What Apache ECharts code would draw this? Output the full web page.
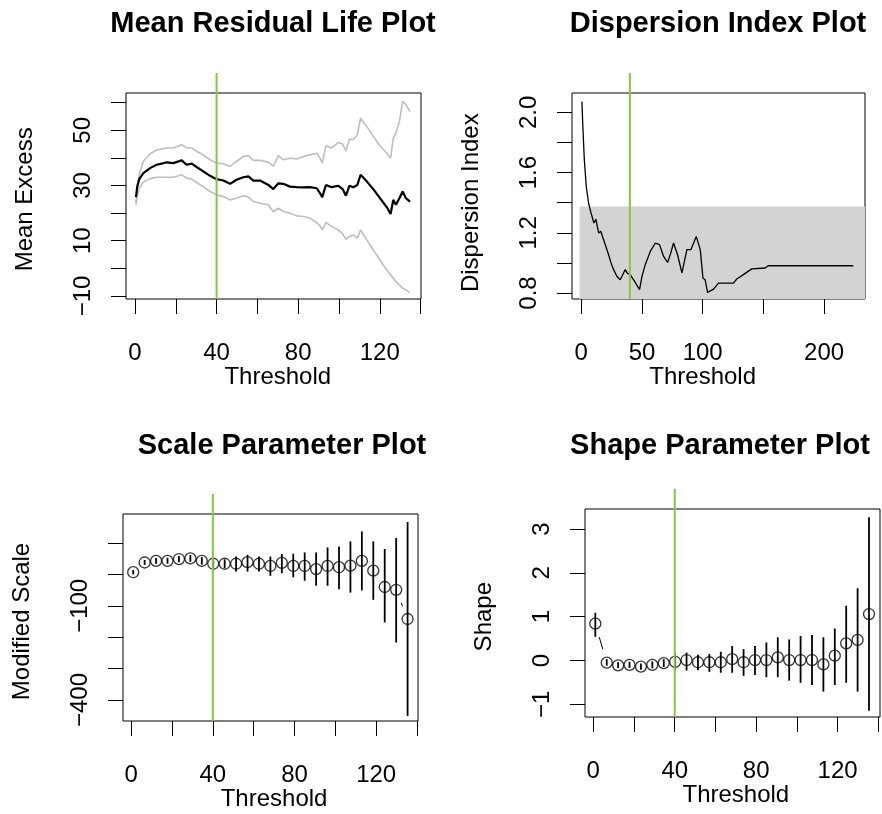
<!DOCTYPE html>
<html>
<head>
<meta charset="utf-8">
<title>Threshold diagnostics</title>
<script src="https://cdn.jsdelivr.net/npm/echarts@6/dist/echarts.min.js"></script>
<style>
html, body { margin: 0; padding: 0; background: #fff; }
#diag { width: 882px; height: 814px; }
</style>
</head>
<body>
<div id="diag"></div>
<script>
// chosen threshold (green line)
var threshold = 40;

// mean residual life plot
var mrlThreshold = [0.5, 1.1, 2.1, 4.1, 7.4, 10.6, 13.1, 15.5, 18.8, 22.9,
    25.3, 27.8, 30.2, 33.5, 36.8, 40, 43.3, 46.6, 49.8, 53.1,
    55.6, 58, 61.3, 65.4, 67.8, 70.3, 72.7, 76, 79.3, 82.5,
    85.8, 89.1, 90.7, 91.8, 93.6, 96.4, 99.7, 101.8, 103.4, 105.1,
    107, 109, 110.6, 113.6, 116.8, 120.1, 123.4, 125.3, 126.6, 127.9,
    129.6, 131.2, 132.8, 134.8];
var mrlMean = [25.8, 29.6, 32.3, 34.5, 36.3, 37.5, 37.9, 38.4, 38.1, 39.1,
    37.5, 37.9, 36.7, 35.1, 33.5, 32.3, 31.8, 30.6, 32.1, 33.0,
    33.3, 31.8, 31.8, 30.2, 28.7, 30.8, 30.6, 29.6, 29.4, 29.3,
    29.4, 29.0, 27.2, 25.8, 30.2, 29.4, 29.9, 28.7, 26.3, 29.9,
    29.4, 30.2, 33.9, 31.5, 28.7, 25.4, 22.2, 19.7, 24.8, 23.0,
    25.4, 27.8, 25.4, 24.2];
var mrlUpper = [23.6, 29.0, 34.0, 38.7, 41.5, 42.8, 43.3, 43.6, 43.6, 44.8,
    43.6, 43.6, 42.4, 41.1, 39.3, 38.1, 37.9, 36.9, 38.7, 40.5,
    40.8, 39.1, 39.1, 38.4, 37.0, 40.8, 39.3, 39.9, 39.6, 40.5,
    41.1, 41.7, 39.9, 38.1, 44.4, 43.6, 45.6, 45.0, 42.5, 46.8,
    46.6, 48.4, 54.4, 51.4, 47.8, 44.4, 41.7, 39.9, 47.2, 49.0,
    53.2, 60.5, 59.3, 56.8];
var mrlLower = [23.0, 26.0, 29.0, 31.3, 32.5, 33.0, 33.0, 33.0, 33.0, 33.9,
    32.7, 32.3, 31.1, 29.6, 27.8, 26.6, 26.0, 24.8, 25.4, 26.3,
    25.8, 24.2, 23.6, 23.0, 20.5, 21.8, 20.6, 20.0, 19.0, 18.8,
    18.2, 16.6, 15.4, 13.9, 16.6, 15.2, 13.9, 12.5, 10.5, 11.5,
    12.1, 10.9, 13.9, 10.3, 6.7, 3.0, -0.6, -2.4, -3.6, -4.8,
    -6.0, -7.2, -7.8, -8.8];

// dispersion index plot
var diThreshold = [0.5, 1.4, 2.5, 4.1, 6, 8, 10.4, 12, 14.3, 16,
    18.4, 19.8, 22.5, 24.5, 26.6, 29.4, 32.1, 34, 36.2, 38,
    40.3, 42, 44.4, 46, 48, 50, 52.7, 56.8, 61, 64.5,
    67.8, 71.1, 73.5, 76, 79.3, 82.9, 87, 90.3, 94.7, 98,
    100.2, 102, 104, 109, 113, 125.4, 128, 133.5, 140.4, 151.4,
    154, 224];
var diValue = [2.073, 1.885, 1.686, 1.508, 1.398, 1.332, 1.265, 1.29, 1.199, 1.21,
    1.154, 1.165, 1.054, 1.0, 0.955, 0.91, 0.888, 0.92, 0.955, 0.93,
    0.922, 0.9, 0.87, 0.86, 0.822, 0.91, 0.988, 1.076, 1.132, 1.121,
    1.043, 1.003, 1.06, 1.132, 1.054, 0.933, 1.088, 1.088, 1.176, 1.088,
    0.9, 0.888, 0.804, 0.826, 0.866, 0.866, 0.893, 0.922, 0.96, 0.966,
    0.981, 0.981];
var diBandX = [-1.4, 240];
var diBandY = [0.62, 1.375];

// parameter stability plots
var fitThreshold = [1, 6.6, 12.2, 17.8, 23.4, 29.0, 34.6, 40.2, 45.8, 51.4,
    57.0, 62.6, 68.2, 73.8, 79.4, 85.0, 90.6, 96.2, 101.8, 107.4,
    113.0, 118.6, 124.2, 129.8, 135.4];
var scaleEst = [7, 38, 43, 43, 49, 51, 43, 34, 34, 34,
    39, 34, 27, 37, 27, 27, 17, 27, 23, 28,
    43, 12, -40, -49, -142];
var scaleLow = [0, 30, 34, 34, 39, 40, 31, 21, 20, 9,
    9, 9, -4.5, 4, -9, -20, -36, -36, -47, -58,
    -51, -81, -153, -217, -451];
var scaleHigh = [14, 46, 52, 53, 59, 62, 55, 47, 48, 57,
    62.5, 57, 57, 65, 66, 70, 70, 86, 89, 105,
    137, 105, 81, 116, 167];
var shapeEst = [0.84, -0.05, -0.11, -0.1, -0.14, -0.1, -0.06, -0.03, 0.01, -0.04,
    -0.04, -0.04, 0.03, -0.04, 0.01, 0.01, 0.07, 0.01, 0.01, 0.01,
    -0.09, 0.11, 0.39, 0.47, 1.06];
var shapeLow = [0.54, -0.12, -0.17, -0.17, -0.21, -0.18, -0.15, -0.22, -0.23, -0.22,
    -0.26, -0.28, -0.28, -0.35, -0.33, -0.38, -0.38, -0.46, -0.51, -0.56,
    -0.71, -0.56, -0.51, -0.71, -1.15];
var shapeHigh = [1.09, 0.03, -0.04, -0.03, -0.07, -0.02, 0.03, 0.16, 0.18, 0.13,
    0.15, 0.2, 0.33, 0.26, 0.33, 0.41, 0.53, 0.48, 0.56, 0.58,
    0.53, 0.73, 1.25, 1.65, 3.27];

// tick labels that are printed (the rest of the ticks stay unlabelled)
var mrlXLabels = [0, 40, 80, 120];
var mrlYLabels = [-10, 10, 30, 50];
var diXLabels = [0, 50, 100, 200];
var diYLabels = [0.8, 1.2, 1.6, 2.0];
var scaleXLabels = [0, 40, 80, 120];
var scaleYLabels = [-400, -100];
var shapeXLabels = [0, 40, 80, 120];
var shapeYLabels = [-1, 0, 1, 2, 3];

var FONT = '"Liberation Sans", Arial, sans-serif';
var GREEN = '#86c73f';
var TICK = 15;

function zip(xs, ys) {
    return xs.map(function (x, i) { return [x, ys[i]]; });
}

function tickText(shown, digits) {
    return function (v) {
        for (var k = 0; k < shown.length; k++) {
            if (Math.abs(shown[k] - v) < 1e-6) {
                return v.toFixed(digits).replace('-', '\u2212');
            }
        }
        return '';
    };
}

// layout of the four panels (plot box in px, axis extents, tick range)
var panels = [
    { title: 'Mean Residual Life Plot', tx: 273, ty: 9,
      box: { l: 126, r: 421, t: 93, b: 299 },
      xExt: [-4.4, 140.2], yExt: [-11.1, 63.5],
      xTicks: [0, 140, 20], yTicks: [-10, 60, 10],
      xLab: mrlXLabels, yLab: mrlYLabels, yDigits: 0,
      xName: 'Threshold', yName: 'Mean Excess' },
    { title: 'Dispersion Index Plot', tx: 718, ty: 9,
      box: { l: 572, r: 865, t: 93, b: 299 },
      xExt: [-7.65, 233.7], yExt: [0.76, 2.129],
      xTicks: [0, 200, 50], yTicks: [0.8, 2.0, 0.2],
      xLab: diXLabels, yLab: diYLabels, yDigits: 1,
      xName: 'Threshold', yName: 'Dispersion Index' },
    { title: 'Scale Parameter Plot', tx: 282, ty: 431,
      box: { l: 123, r: 418, t: 514, b: 721 },
      xExt: [-4, 140.5], yExt: [-467, 192.5],
      xTicks: [0, 140, 20], yTicks: [-400, 100, 100],
      xLab: scaleXLabels, yLab: scaleYLabels, yDigits: 0,
      xName: 'Threshold', yName: 'Modified Scale' },
    { title: 'Shape Parameter Plot', tx: 720, ty: 431,
      box: { l: 585, r: 880, t: 509, b: 717 },
      xExt: [-4.07, 140.8], yExt: [-1.29, 3.458],
      xTicks: [0, 140, 20], yTicks: [-1, 3, 1],
      xLab: shapeXLabels, yLab: shapeYLabels, yDigits: 0,
      xName: 'Threshold', yName: 'Shape' }
];

var grids = [], xAxes = [], yAxes = [], series = [], graphics = [];
var lineSt = { color: '#000', width: 1 };
var textSt = { color: '#000', fontFamily: FONT, fontSize: 24 };

function hiddenAxis(gi, ext) {
    return { type: 'value', gridIndex: gi, min: ext[0], max: ext[1], show: false };
}

panels.forEach(function (p, i) {
    var b = p.box;
    var W = b.r - b.l, H = b.b - b.t;
    var sx = W / (p.xExt[1] - p.xExt[0]);
    var sy = H / (p.yExt[1] - p.yExt[0]);
    var g0 = 3 * i;

    // plotting region with its box
    grids.push({ left: b.l, top: b.t, width: W, height: H, show: true,
        borderColor: '#000', borderWidth: 1, backgroundColor: 'transparent',
        outerBoundsMode: 'none' });
    xAxes.push(hiddenAxis(g0, p.xExt));
    yAxes.push(hiddenAxis(g0, p.yExt));

    // axes cover only the tick range, like base R
    var axL = b.l + (p.xTicks[0] - p.xExt[0]) * sx;
    var axR = b.l + (p.xTicks[1] - p.xExt[0]) * sx;
    var axT = b.b - (p.yTicks[1] - p.yExt[0]) * sy;
    var axB = b.b - (p.yTicks[0] - p.yExt[0]) * sy;

    // x axis: grid whose bottom edge sits TICK px below the box, ticks pointing up to it
    grids.push({ left: axL, top: b.t, width: axR - axL, height: H + TICK, show: false,
        outerBoundsMode: 'none' });
    xAxes.push({
        type: 'value', gridIndex: g0 + 1, position: 'bottom',
        min: p.xTicks[0], max: p.xTicks[1], interval: p.xTicks[2],
        axisLine: { show: false, onZero: false },
        axisTick: { show: true, inside: true, length: TICK, lineStyle: lineSt },
        axisLabel: Object.assign({ show: true, margin: 42 - TICK,
            formatter: tickText(p.xLab, 0), hideOverlap: false }, textSt),
        splitLine: { show: false },
        name: p.xName, nameLocation: 'middle', nameGap: 66 - TICK, nameMoveOverlap: false,
        nameTextStyle: textSt
    });
    yAxes.push(hiddenAxis(g0 + 1, p.yExt));

    // y axis: grid whose left edge sits TICK px left of the box
    grids.push({ left: b.l - TICK, top: axT, width: W + TICK, height: axB - axT, show: false,
        outerBoundsMode: 'none' });
    xAxes.push(hiddenAxis(g0 + 2, p.xExt));
    yAxes.push({
        type: 'value', gridIndex: g0 + 2, position: 'left',
        min: p.yTicks[0], max: p.yTicks[1], interval: p.yTicks[2],
        axisLine: { show: false, onZero: false },
        axisTick: { show: true, inside: true, length: TICK, lineStyle: lineSt },
        axisLabel: Object.assign({ show: true, margin: 31 - TICK, rotate: 90,
            formatter: tickText(p.yLab, p.yDigits), hideOverlap: false }, textSt),
        splitLine: { show: false },
        name: p.yName, nameLocation: 'middle', nameGap: 89 - TICK, nameRotate: 90,
        nameMoveOverlap: false, nameTextStyle: textSt
    });

    graphics.push({ type: 'text', x: p.tx, y: p.ty,
        style: { text: p.title, fill: '#000', font: 'bold 29px ' + FONT,
            textAlign: 'center', textVerticalAlign: 'top', verticalAlign: 'top' } });
});

function onPanel(i, s) {
    s.xAxisIndex = 3 * i;
    s.yAxisIndex = 3 * i;
    return s;
}

function errorBars(i, xs, lo, hi) {
    return onPanel(i, {
        type: 'custom',
        data: xs.map(function (x, k) { return [x, lo[k], hi[k]]; }),
        renderItem: function (params, api) {
            var a = api.coord([api.value(0), api.value(1)]);
            var c = api.coord([api.value(0), api.value(2)]);
            return { type: 'line', shape: { x1: a[0], y1: a[1], x2: c[0], y2: c[1] },
                style: { stroke: '#000', lineWidth: 1.8 } };
        },
        z: 4, silent: true
    });
}

// points joined like R's type = "b": segments stop short of each circle
function pointSeries(i, xs, ys) {
    var segs = [];
    for (var k = 0; k + 1 < xs.length; k++) {
        segs.push([xs[k], ys[k], xs[k + 1], ys[k + 1]]);
    }
    return [
        onPanel(i, { type: 'custom', data: segs,
          renderItem: function (params, api) {
              var a = api.coord([api.value(0), api.value(1)]);
              var c = api.coord([api.value(2), api.value(3)]);
              var dx = c[0] - a[0], dy = c[1] - a[1];
              var len = Math.sqrt(dx * dx + dy * dy), gap = 14;
              if (len <= 2 * gap) return null;
              var ux = dx / len, uy = dy / len;
              return { type: 'line',
                  shape: { x1: a[0] + ux * gap, y1: a[1] + uy * gap,
                           x2: c[0] - ux * gap, y2: c[1] - uy * gap },
                  style: { stroke: '#000', lineWidth: 1 } };
          }, z: 2, silent: true }),
        onPanel(i, { type: 'scatter', data: zip(xs, ys),
          symbol: 'circle', symbolSize: 11,
          itemStyle: { color: 'rgba(255,255,255,0)', borderColor: '#000', borderWidth: 1.3 }, z: 3 })
    ];
}

// panel 1: mean excess with confidence limits
series.push(
    onPanel(0, { type: 'line', data: zip(mrlThreshold, mrlUpper),
      symbol: 'none', lineStyle: { color: '#bebebe', width: 1.6 } }),
    onPanel(0, { type: 'line', data: zip(mrlThreshold, mrlLower),
      symbol: 'none', lineStyle: { color: '#bebebe', width: 1.6 } }),
    onPanel(0, { type: 'line', data: zip(mrlThreshold, mrlMean),
      symbol: 'none', lineStyle: { color: '#000', width: 2.2 } })
);

// panel 2: dispersion index with acceptance band
series.push(
    onPanel(1, { type: 'custom',
      data: [[diBandX[0], diBandX[1], diBandY[0], diBandY[1]]],
      renderItem: function (params, api) {
          var p0 = api.coord([api.value(0), api.value(3)]);
          var p1 = api.coord([api.value(1), api.value(2)]);
          var rect = echarts.graphic.clipRectByRect(
              { x: p0[0], y: p0[1], width: p1[0] - p0[0], height: p1[1] - p0[1] },
              { x: params.coordSys.x, y: params.coordSys.y,
                width: params.coordSys.width, height: params.coordSys.height });
          return rect && { type: 'rect', shape: rect, style: { fill: '#d3d3d3' } };
      }, z: 1, silent: true }),
    onPanel(1, { type: 'line', data: zip(diThreshold, diValue),
      symbol: 'none', lineStyle: { color: '#000', width: 1.3 }, z: 2 })
);

// panels 3 and 4: parameter estimates with intervals
series = series.concat(pointSeries(2, fitThreshold, scaleEst));
series.push(errorBars(2, fitThreshold, scaleLow, scaleHigh));
series = series.concat(pointSeries(3, fitThreshold, shapeEst));
series.push(errorBars(3, fitThreshold, shapeLow, shapeHigh));

// threshold marker: runs from the bottom of each box to a bit above it
panels.forEach(function (p, i) {
    var H = p.box.b - p.box.t;
    var top = p.yExt[1] + (p.yExt[1] - p.yExt[0]) * 20 / H;
    series.push(onPanel(i, { type: 'line',
        data: [[threshold, p.yExt[0]], [threshold, top]], clip: false,
        symbol: 'none', lineStyle: { color: GREEN, width: 2 }, z: 10 }));
});

var dom = document.getElementById('diag');
var chart = echarts.init(dom, null, { renderer: 'canvas' });
var option = {
    animation: false,
    backgroundColor: '#fff',
    grid: grids,
    xAxis: xAxes,
    yAxis: yAxes,
    graphic: graphics,
    series: series
};
chart.setOption(option);
window.addEventListener('resize', chart.resize);
</script>
</body>
</html>
